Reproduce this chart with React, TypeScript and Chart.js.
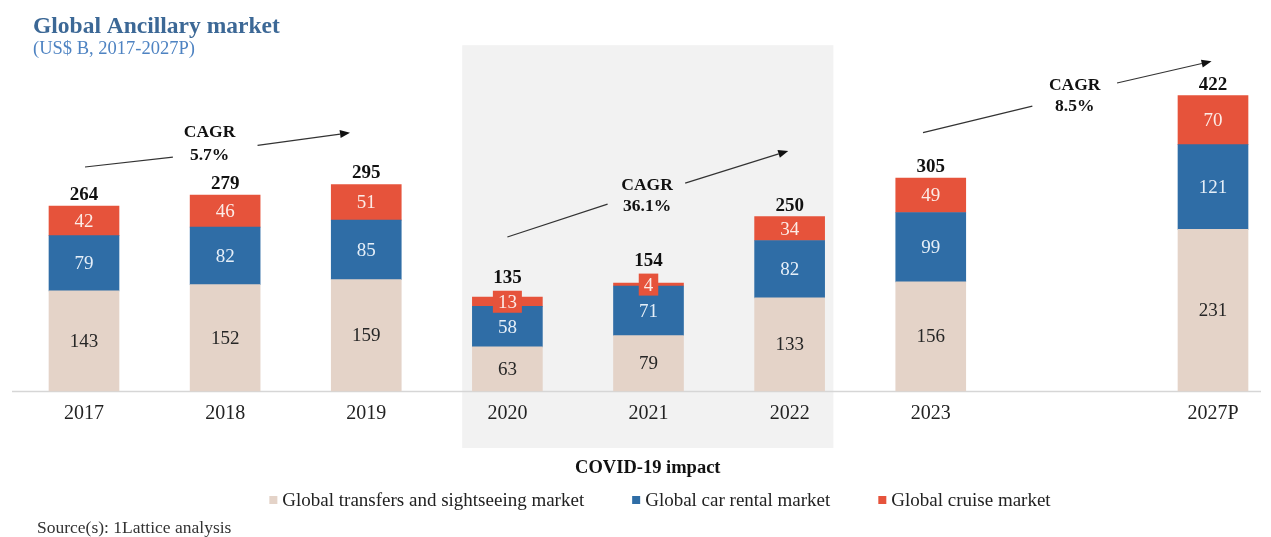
import React, { useEffect, useRef } from 'react';
import { Chart, registerables } from 'chart.js';

Chart.register(...registerables);

// ---------- data ----------
const categories = ['2017', '2018', '2019', '2020', '2021', '2022', '2023', '', '2027P'];
const transfers = [143, 152, 159, 63, 79, 133, 156, null, 231];
const carRental = [79, 82, 85, 58, 71, 82, 99, null, 121];
const cruise = [42, 46, 51, 13, 4, 34, 49, null, 70];
const totals = [264, 279, 295, 135, 154, 250, 305, null, 422];
const seriesNames = [
  'Global transfers and sightseeing market',
  'Global car rental market',
  'Global cruise market',
];
const seriesColors = ['#E4D3C8', '#2F6DA6', '#E6533B'];
const labelColors = ['#262626', '#E6EFF8', '#FCECE7'];

// CAGR annotations in data coordinates: [category index, value]
const cagrLabels = ['5.7%', '36.1%', '8.5%'];
const cagrTextPos = [
  [0.89, 369, 337],
  [3.99, 294, 264],
  [7.02, 437, 406],
];
const cagrLine1 = [
  [[0.007, 320], [0.63, 334]],
  [[3.0, 220], [3.71, 267]],
  [[5.945, 369], [6.72, 407]],
];
const cagrLine2 = [
  [[1.23, 351], [1.885, 369]],
  [[4.26, 297], [4.99, 343]],
  [[7.32, 440], [7.99, 471]],
];
const covidRange = [2.68, 5.31];
const covidTop = 494;

const SERIF = '"Liberation Serif", "Times New Roman", serif';

const decorPlugin = {
  id: 'decor',
  beforeDraw(chart: any) {
    const { ctx, chartArea, scales } = chart;
    const x = scales.x;
    const y = scales.y;
    ctx.save();
    ctx.fillStyle = '#ffffff';
    ctx.fillRect(0, 0, chart.width, chart.height);
    const l = x.getPixelForValue(covidRange[0]);
    const r = x.getPixelForValue(covidRange[1]);
    const t = y.getPixelForValue(covidTop);
    const b = chartArea.bottom + 57;
    ctx.fillStyle = '#F2F2F2';
    ctx.fillRect(l, t, r - l, b - t);
    ctx.restore();
  },
  beforeDatasetsDraw(chart: any) {
    const { ctx, chartArea } = chart;
    ctx.save();
    ctx.strokeStyle = '#D6D6D6';
    ctx.lineWidth = 1.5;
    ctx.beginPath();
    ctx.moveTo(12, chartArea.bottom + 0.5);
    ctx.lineTo(chart.width - 10, chartArea.bottom + 0.5);
    ctx.stroke();
    ctx.restore();
  },
  afterDatasetsDraw(chart: any) {
    const { ctx, chartArea, scales } = chart;
    const xs = scales.x;
    const ys = scales.y;
    ctx.save();
    ctx.textAlign = 'center';
    ctx.textBaseline = 'middle';

    // segment labels
    const topEdge: number[] = [];
    chart.data.datasets.forEach((ds: any, di: number) => {
      const meta = chart.getDatasetMeta(di);
      meta.data.forEach((el: any, i: number) => {
        const v = ds.data[i];
        if (v === null || v === undefined) return;
        const cy = (el.y + el.base) / 2;
        ctx.font = `19px ${SERIF}`;
        const h = Math.abs(el.base - el.y);
        let top = el.y;
        if (h < 20) {
          const tw = ctx.measureText(String(v)).width;
          ctx.fillStyle = ds.backgroundColor;
          ctx.fillRect(el.x - tw / 2 - 5, cy - 11, tw + 10, 22);
          top = Math.min(top, cy - 11);
        }
        topEdge[i] = topEdge[i] === undefined ? top : Math.min(topEdge[i], top);
        ctx.fillStyle = labelColors[di];
        ctx.fillText(String(v), el.x, cy + 1);
      });
    });

    // totals
    const topMeta = chart.getDatasetMeta(chart.data.datasets.length - 1);
    ctx.font = `bold 19px ${SERIF}`;
    ctx.fillStyle = '#111111';
    topMeta.data.forEach((el: any, i: number) => {
      const t = totals[i];
      if (t === null) return;
      const boxed = topEdge[i] < el.y - 0.5;
      ctx.fillText(String(t), el.x, topEdge[i] - (boxed ? 13 : 11));
    });

    // CAGR arrows
    ctx.strokeStyle = '#333333';
    ctx.fillStyle = '#111111';
    ctx.lineWidth = 1.2;
    const px = (p: number[]) => [xs.getPixelForValue(p[0]), ys.getPixelForValue(p[1])];
    cagrLabels.forEach((lab, k) => {
      const a1 = px(cagrLine1[k][0]);
      const b1 = px(cagrLine1[k][1]);
      ctx.beginPath();
      ctx.moveTo(a1[0], a1[1]);
      ctx.lineTo(b1[0], b1[1]);
      ctx.stroke();
      const a2 = px(cagrLine2[k][0]);
      const b2 = px(cagrLine2[k][1]);
      const ang = Math.atan2(b2[1] - a2[1], b2[0] - a2[0]);
      const hl = 10;
      const hw = 4;
      const bx = b2[0] - hl * Math.cos(ang);
      const by = b2[1] - hl * Math.sin(ang);
      ctx.beginPath();
      ctx.moveTo(a2[0], a2[1]);
      ctx.lineTo(bx, by);
      ctx.stroke();
      ctx.beginPath();
      ctx.moveTo(b2[0], b2[1]);
      ctx.lineTo(bx + hw * Math.sin(ang), by - hw * Math.cos(ang));
      ctx.lineTo(bx - hw * Math.sin(ang), by + hw * Math.cos(ang));
      ctx.closePath();
      ctx.fill();
      const tp = cagrTextPos[k];
      const tx = xs.getPixelForValue(tp[0]);
      ctx.font = `bold 17.5px ${SERIF}`;
      ctx.fillText('CAGR', tx, ys.getPixelForValue(tp[1]));
      ctx.fillText(lab, tx, ys.getPixelForValue(tp[2]));
    });

    // COVID label
    ctx.font = `bold 18.5px ${SERIF}`;
    ctx.fillStyle = '#111111';
    const cx = (xs.getPixelForValue(covidRange[0]) + xs.getPixelForValue(covidRange[1])) / 2;
    ctx.fillText('COVID-19 impact', cx, chartArea.bottom + 77);

    // legend
    ctx.font = `19px ${SERIF}`;
    const box = 8;
    const gapBox = 5;
    const gapItem = 48;
    const widths = seriesNames.map((n) => ctx.measureText(n).width);
    const total = widths.reduce((s, w) => s + box + gapBox + w, 0) + gapItem * (seriesNames.length - 1);
    let lx = 660 - total / 2;
    const ly = chartArea.bottom + 109;
    ctx.textAlign = 'left';
    seriesNames.forEach((n, k) => {
      ctx.fillStyle = seriesColors[k];
      ctx.fillRect(lx, ly - box / 2, box, box);
      ctx.fillStyle = '#222222';
      ctx.fillText(n, lx + box + gapBox, ly + 1);
      lx += box + gapBox + widths[k] + gapItem;
    });

    // title, subtitle, source
    ctx.textBaseline = 'alphabetic';
    ctx.fillStyle = '#3C6896';
    ctx.font = `bold 23.5px ${SERIF}`;
    ctx.fillText('Global Ancillary market', 33, 33);
    ctx.fillStyle = '#4E83C2';
    ctx.font = `18.5px ${SERIF}`;
    ctx.fillText('(US$ B, 2017-2027P)', 33, 54);
    ctx.fillStyle = '#333333';
    ctx.font = `17.5px ${SERIF}`;
    ctx.fillText('Source(s): 1Lattice analysis', 37, 533);
    ctx.restore();
  },
};

export default function App() {
  const ref = useRef<HTMLCanvasElement | null>(null);
  useEffect(() => {
    if (!ref.current) return;
    const chart = new Chart(ref.current, {
      type: 'bar',
      data: {
        labels: categories,
        datasets: [
          { label: seriesNames[0], data: transfers, backgroundColor: seriesColors[0] },
          { label: seriesNames[1], data: carRental, backgroundColor: seriesColors[1] },
          { label: seriesNames[2], data: cruise, backgroundColor: seriesColors[2] },
        ].map((d) => ({ ...d, barThickness: 70, borderWidth: 0, clip: false as any })),
      },
      options: {
        responsive: false,
        animation: false,
        events: [],
        layout: { padding: { left: 84, right: 58, top: 41, bottom: 106 } },
        scales: {
          x: {
            stacked: true,
            offset: false,
            grid: { display: false, drawTicks: false },
            border: { display: false },
            ticks: {
              color: '#222222',
              font: { family: SERIF, size: 20 },
              padding: 11,
              autoSkip: false,
              maxRotation: 0,
            },
            afterFit: (s: any) => {
              s.height = 40;
            },
          },
          y: { stacked: true, display: false, min: 0, max: 500 },
        },
        plugins: {
          legend: { display: false },
          tooltip: { enabled: false },
          title: { display: false },
        },
      },
      plugins: [decorPlugin],
    });
    return () => chart.destroy();
  }, []);
  return (
    <div style={{ position: 'absolute', left: 0, top: 0, width: 1271, height: 537, background: '#fff' }}>
      <canvas ref={ref} width={1271} height={537} style={{ display: 'block' }} />
    </div>
  );
}
